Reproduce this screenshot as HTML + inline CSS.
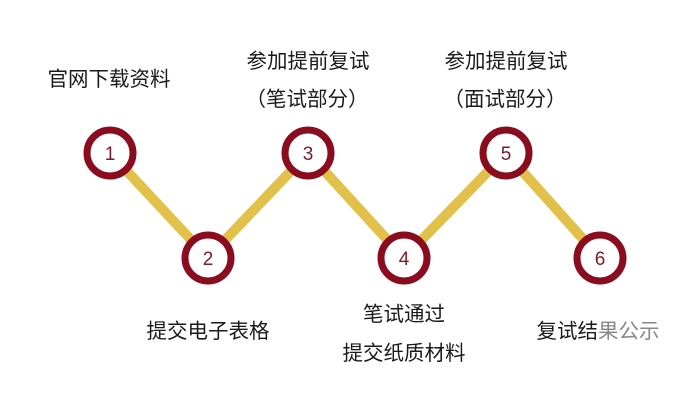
<!DOCTYPE html>
<html><head><meta charset="utf-8"><style>
html,body{margin:0;padding:0;background:#fff;}
svg text{font-family:"Liberation Sans","Noto Sans CJK SC",sans-serif;font-size:20.5px;fill:#1a1a1a;}
</style></head><body>
<svg width="700" height="402" viewBox="0 0 700 402" xmlns="http://www.w3.org/2000/svg">
<polyline points="110,153 208,258 308,153 404,258 506,153 600,258" fill="none" stroke="#e2c14b" stroke-width="10"/>
<g fill="#fff" stroke="#8a0d1f" stroke-width="7">
<circle cx="110" cy="153" r="23"/><circle cx="208" cy="258" r="23"/><circle cx="308" cy="153" r="23"/>
<circle cx="404" cy="258" r="23"/><circle cx="506" cy="153" r="23"/><circle cx="600" cy="258" r="23"/>
</g>
<g text-anchor="middle">
<text x="110" y="160" style="fill:#7a1a2a;font-size:19px">1</text>
<text x="208" y="265" style="fill:#7a1a2a;font-size:19px">2</text>
<text x="308" y="160" style="fill:#7a1a2a;font-size:19px">3</text>
<text x="404" y="265" style="fill:#7a1a2a;font-size:19px">4</text>
<text x="506" y="160" style="fill:#7a1a2a;font-size:19px">5</text>
<text x="600" y="265" style="fill:#7a1a2a;font-size:19px">6</text>
</g>
<g text-anchor="middle">
<text x="109" y="86">官网下载资料</text>
<text x="308" y="68">参加提前复试</text>
<text x="307" y="106">（笔试部分）</text>
<text x="506" y="68">参加提前复试</text>
<text x="505" y="106">（面试部分）</text>
<text x="208" y="338">提交电子表格</text>
<text x="404" y="321">笔试通过</text>
<text x="404" y="360">提交纸质材料</text>
<text x="598" y="338">复试结<tspan style="fill:#888">果公示</tspan></text>
</g>
</svg>
</body></html>
